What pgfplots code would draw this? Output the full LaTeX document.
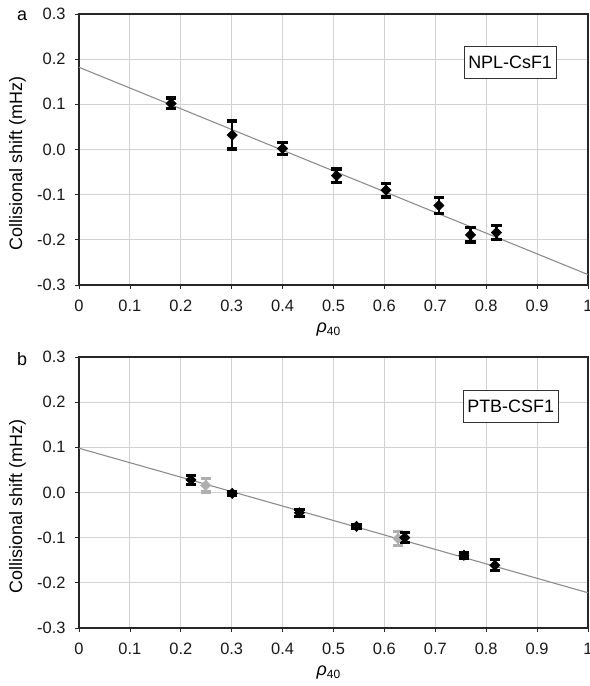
\documentclass[border=0pt]{standalone}
\usepackage{pgfplots}
\pgfplotsset{compat=1.18}
\usepackage{fontspec}
\setmainfont{Liberation Sans}

\definecolor{gridgray}{RGB}{210,210,210}
\definecolor{fitgray}{RGB}{140,140,140}
\definecolor{ptgray}{RGB}{175,175,175}

\tikzset{
  boxlabel/.style={draw=black!80, fill=white, line width=0.8bp,
    font=\fontsize{18}{20}\selectfont, inner xsep=4bp, minimum height=32bp}
}

\pgfplotsset{
  shiftpanel/.style={
    scale only axis, width=509bp, height=271bp,
    xmin=0, xmax=1, ymin=-0.3, ymax=0.3,
    xtick={0,0.1,...,1}, ytick={-0.3,-0.2,...,0.3},
    xticklabels={0,0.1,0.2,0.3,0.4,0.5,0.6,0.7,0.8,0.9,1},
    yticklabels={-0.3,-0.2,-0.1,0.0,0.1,0.2,0.3},
    tick align=outside, tick pos=left, major tick length=4bp,
    tick style={black!85, line width=0.8bp},
    axis line style={black!85, line width=1.2bp},
    grid=major, major grid style={gridgray, line width=1bp},
    tick label style={font=\fontsize{16.5}{18}\selectfont, black!90},
    xticklabel style={yshift=-8bp},
    yticklabel style={xshift=-6bp},
    every axis y label/.style={at={(axis description cs:-0.121,0.448)}, rotate=90, anchor=center,
      font=\fontsize{18}{20}\selectfont},
    every axis x label/.style={at={(axis description cs:0.49,-0.165)}, anchor=center,
      font=\fontsize{18}{20}\selectfont},
    ylabel={Collisional shift (mHz)},
    xlabel={\textit{ρ}\raisebox{-0.35ex}{\fontsize{12}{14}\selectfont 40}},
    clip=false,
  },
  errbar/.style={
    only marks, mark=square*, mark size=3.7bp,
    mark options={rotate=45},
    error bars/y dir=both, error bars/y explicit,
    error bars/error bar style={line width=2.4bp},
    error bars/error mark options={rotate=90, mark size=5.2bp, line width=3.2bp}
  },
  fitline/.style={no marks, fitgray, line width=1.1bp},
}

\begin{document}
\begin{tikzpicture}
\useasboundingbox (0,0) rectangle (590bp,686bp);

% panel a
\begin{axis}[shiftpanel, at={(79bp,401bp)}, anchor=south west]
  \addplot[fitline] coordinates {(0,0.182) (1,-0.277)};
  \addplot[errbar, black] table[x=x, y=y, y error=e] {
    x      y       e
    0.181  0.102   0.012
    0.301  0.032   0.031
    0.400  0.002   0.013
    0.506  -0.058  0.015
    0.603  -0.090  0.015
    0.707  -0.124  0.017
    0.769  -0.189  0.016
    0.820  -0.184  0.016
  };
  \node[boxlabel] at (axis cs:0.847,0.193) {NPL-CsF1};
  \node[font=\fontsize{18}{20}\selectfont] at (axis description cs:-0.112,0.993) {a};
\end{axis}

% panel b
\begin{axis}[shiftpanel, at={(79bp,58bp)}, anchor=south west]
  \addplot[fitline] coordinates {(0,0.098) (1,-0.222)};
  \addplot[errbar, ptgray] table[x=x, y=y, y error=e] {
    x      y       e
    0.249  0.016   0.015
    0.627  -0.102  0.015
  };
  \addplot[errbar, black] table[x=x, y=y, y error=e] {
    x      y       e
    0.220  0.028   0.010
    0.301  -0.002  0.005
    0.433  -0.045  0.008
    0.545  -0.075  0.005
    0.640  -0.100  0.011
    0.756  -0.139  0.006
    0.817  -0.161  0.012
  };
  \node[boxlabel] at (axis cs:0.848,0.190) {PTB-CSF1};
  \node[font=\fontsize{18}{20}\selectfont] at (axis description cs:-0.112,0.993) {b};
\end{axis}
\end{tikzpicture}
\end{document}
